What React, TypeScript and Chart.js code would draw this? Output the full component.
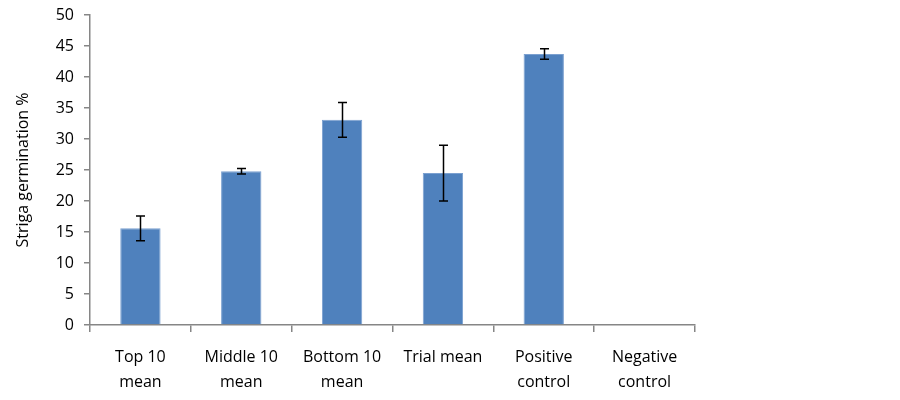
import React, { useEffect, useRef } from "react";
import { Chart, registerables } from "chart.js";

Chart.register(...registerables);

const categories: string[][] = [
  ["Top 10", "mean"],
  ["Middle 10", "mean"],
  ["Bottom 10", "mean"],
  ["Trial mean"],
  ["Positive", "control"],
  ["Negative", "control"],
];
const germination: number[] = [15.6, 24.8, 33.1, 24.5, 43.7, 0];
const errors: (number | null)[] = [2.0, 0.45, 2.8, 4.5, 0.85, null];
const yTitle = "Striga germination %";

const errorBarPlugin = {
  id: "errorBars",
  afterDatasetsDraw(chart: any) {
    const ctx = chart.ctx;
    const meta = chart.getDatasetMeta(0);
    const y = chart.scales.y;
    ctx.save();
    ctx.strokeStyle = "#000";
    ctx.lineWidth = 1.5;
    meta.data.forEach((bar: any, i: number) => {
      const e = errors[i];
      if (e == null) return;
      const v = germination[i];
      const top = y.getPixelForValue(v + e);
      const bot = y.getPixelForValue(v - e);
      const x = Math.round(bar.x) + 0.5;
      const cap = 4.5;
      ctx.beginPath();
      ctx.moveTo(x, top);
      ctx.lineTo(x, bot);
      ctx.moveTo(x - cap, top);
      ctx.lineTo(x + cap, top);
      ctx.moveTo(x - cap, bot);
      ctx.lineTo(x + cap, bot);
      ctx.stroke();
    });
    ctx.restore();
  },
};

export default function App() {
  const ref = useRef<HTMLCanvasElement>(null);
  useEffect(() => {
    if (!ref.current) return;
    const fam = "'Open Sans', 'Liberation Sans', sans-serif";
    const chart = new Chart(ref.current, {
      type: "bar",
      data: {
        labels: categories,
        datasets: [
          {
            data: germination,
            backgroundColor: "#4F81BD",
            borderColor: "#7BA0D0",
            borderWidth: 1,
            barPercentage: 0.4,
            categoryPercentage: 1,
          },
        ],
      },
      options: {
        animation: false,
        responsive: false,
        maintainAspectRatio: false,
        layout: { padding: { left: 10, right: 205, top: 15, bottom: 0 } },
        plugins: { legend: { display: false }, tooltip: { enabled: false } },
        scales: {
          x: {
            offset: true,
            grid: {
              offset: true,
              drawOnChartArea: false,
              tickLength: 7,
              color: "#868686",
              lineWidth: 1.5,
            },
            border: { color: "#868686", width: 1.5 },
            ticks: {
              color: "#000",
              font: { family: fam, size: 16, lineHeight: "25px" },
              padding: 13,
              maxRotation: 0,
              autoSkip: false,
            },
            afterFit: (s: any) => {
              s.height = 75;
              s.paddingLeft = 0;
              s.paddingRight = 0;
            },
          },
          y: {
            min: 0,
            max: 50,
            ticks: { stepSize: 5, color: "#000", font: { family: fam, size: 16 }, padding: 10 },
            grid: {
              drawOnChartArea: false,
              tickLength: 6,
              color: "#868686",
              lineWidth: 1.5,
            },
            border: { color: "#868686", width: 1.5 },
            title: { display: true, text: yTitle, color: "#000", font: { family: fam, size: 16 }, padding: 4 },
            afterFit: (s: any) => {
              s.width = 80;
              s.paddingTop = 0;
              s.paddingBottom = 0;
            },
          },
        },
      },
      plugins: [errorBarPlugin],
    });
    return () => chart.destroy();
  }, []);
  return (
    <div style={{ position: "fixed", left: 0, top: 0, width: 900, height: 400, background: "#fff" }}>
      <canvas ref={ref} width={900} height={400} />
    </div>
  );
}
